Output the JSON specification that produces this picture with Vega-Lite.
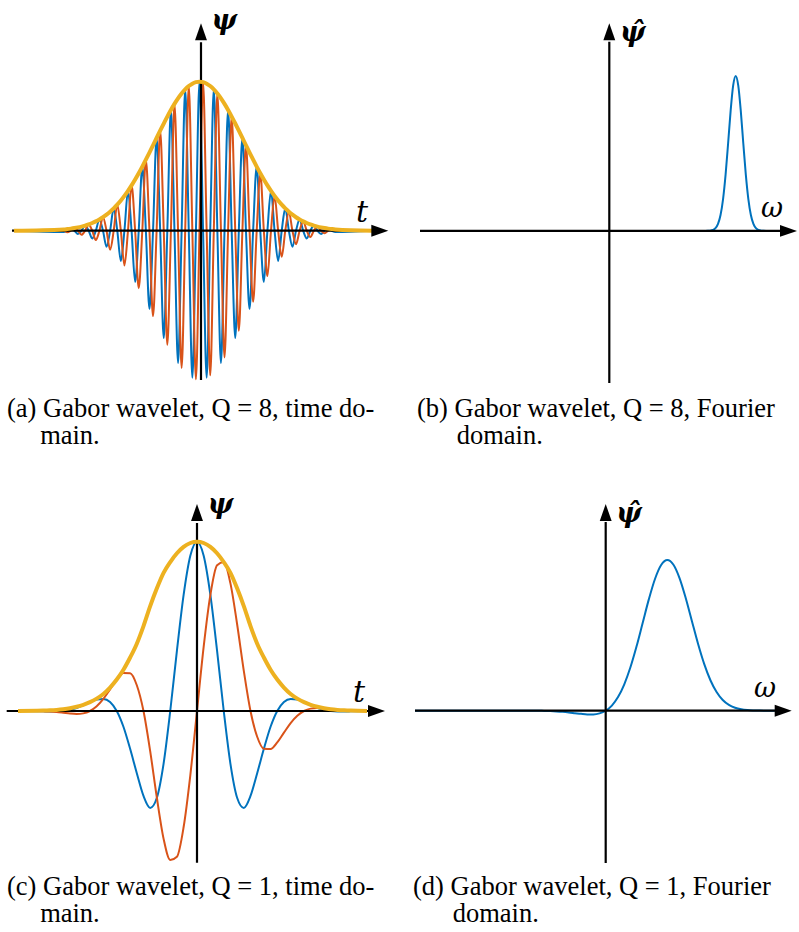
{
  "$schema": "https://vega.github.io/schema/vega-lite/v6.json",
  "padding": 0,
  "background": "white",
  "bounds": "flush",
  "columns": 2,
  "spacing": {"row": 90, "column": 4},
  "config": {
    "view": {"stroke": null},
    "title": {"font": "Liberation Serif", "fontSize": 26.5, "fontWeight": "normal", "color": "#000000", "anchor": "start", "orient": "bottom", "lineHeight": 27}
  },
  "datasets": {
    "a": [
      {"t": -12.97, "re": 0, "im": 0, "env": 0},
      {"t": -9.5, "re": -0.0086, "im": 0, "env": 0.0086},
      {"t": -9.25, "re": 0, "im": -0.011, "env": 0.011},
      {"t": -9, "re": 0.014, "im": 0, "env": 0.014},
      {"t": -8.75, "re": 0, "im": 0.0177, "env": 0.0177},
      {"t": -8.5, "re": -0.0222, "im": 0, "env": 0.0222},
      {"t": -8.25, "re": 0, "im": -0.0277, "env": 0.0277},
      {"t": -8, "re": 0.0343, "im": 0, "env": 0.0343},
      {"t": -7.75, "re": 0, "im": 0.0422, "env": 0.0422},
      {"t": -7.5, "re": -0.0516, "im": 0, "env": 0.0516},
      {"t": -7.25, "re": 0, "im": -0.0626, "env": 0.0626},
      {"t": -7, "re": 0.0755, "im": 0, "env": 0.0755},
      {"t": -6.75, "re": 0, "im": 0.0905, "env": 0.0905},
      {"t": -6.5, "re": -0.1078, "im": 0, "env": 0.1078},
      {"t": -6.25, "re": 0, "im": -0.1276, "env": 0.1276},
      {"t": -6, "re": 0.1499, "im": 0, "env": 0.1499},
      {"t": -5.75, "re": 0, "im": 0.175, "env": 0.175},
      {"t": -5.5, "re": -0.203, "im": 0, "env": 0.203},
      {"t": -5.25, "re": 0, "im": -0.2339, "env": 0.2339},
      {"t": -5, "re": 0.2677, "im": 0, "env": 0.2677},
      {"t": -4.75, "re": 0, "im": 0.3044, "env": 0.3044},
      {"t": -4.5, "re": -0.3439, "im": 0, "env": 0.3439},
      {"t": -4.25, "re": 0, "im": -0.3859, "env": 0.3859},
      {"t": -4, "re": 0.4302, "im": 0, "env": 0.4302},
      {"t": -3.75, "re": 0, "im": 0.4765, "env": 0.4765},
      {"t": -3.5, "re": -0.5243, "im": 0, "env": 0.5243},
      {"t": -3.25, "re": 0, "im": -0.5731, "env": 0.5731},
      {"t": -3, "re": 0.6222, "im": 0, "env": 0.6222},
      {"t": -2.75, "re": 0, "im": 0.6712, "env": 0.6712},
      {"t": -2.5, "re": -0.7193, "im": 0, "env": 0.7193},
      {"t": -2.25, "re": 0, "im": -0.7658, "env": 0.7658},
      {"t": -2, "re": 0.8099, "im": 0, "env": 0.8099},
      {"t": -1.75, "re": 0, "im": 0.8509, "env": 0.8509},
      {"t": -1.5, "re": -0.8882, "im": 0, "env": 0.8882},
      {"t": -1.25, "re": 0, "im": -0.9209, "env": 0.9209},
      {"t": -1, "re": 0.9487, "im": 0, "env": 0.9487},
      {"t": -0.75, "re": 0, "im": 0.9708, "env": 0.9708},
      {"t": -0.5, "re": -0.9869, "im": 0, "env": 0.9869},
      {"t": -0.25, "re": 0, "im": -0.9967, "env": 0.9967},
      {"t": 0, "re": 1, "im": 0, "env": 1},
      {"t": 0.25, "re": 0, "im": 0.9967, "env": 0.9967},
      {"t": 0.5, "re": -0.9869, "im": 0, "env": 0.9869},
      {"t": 0.75, "re": 0, "im": -0.9708, "env": 0.9708},
      {"t": 1, "re": 0.9487, "im": 0, "env": 0.9487},
      {"t": 1.25, "re": 0, "im": 0.9209, "env": 0.9209},
      {"t": 1.5, "re": -0.8882, "im": 0, "env": 0.8882},
      {"t": 1.75, "re": 0, "im": -0.8509, "env": 0.8509},
      {"t": 2, "re": 0.8099, "im": 0, "env": 0.8099},
      {"t": 2.25, "re": 0, "im": 0.7658, "env": 0.7658},
      {"t": 2.5, "re": -0.7193, "im": 0, "env": 0.7193},
      {"t": 2.75, "re": 0, "im": -0.6712, "env": 0.6712},
      {"t": 3, "re": 0.6222, "im": 0, "env": 0.6222},
      {"t": 3.25, "re": 0, "im": 0.5731, "env": 0.5731},
      {"t": 3.5, "re": -0.5243, "im": 0, "env": 0.5243},
      {"t": 3.75, "re": 0, "im": -0.4765, "env": 0.4765},
      {"t": 4, "re": 0.4302, "im": 0, "env": 0.4302},
      {"t": 4.25, "re": 0, "im": 0.3859, "env": 0.3859},
      {"t": 4.5, "re": -0.3439, "im": 0, "env": 0.3439},
      {"t": 4.75, "re": 0, "im": -0.3044, "env": 0.3044},
      {"t": 5, "re": 0.2677, "im": 0, "env": 0.2677},
      {"t": 5.25, "re": 0, "im": 0.2339, "env": 0.2339},
      {"t": 5.5, "re": -0.203, "im": 0, "env": 0.203},
      {"t": 5.75, "re": 0, "im": -0.175, "env": 0.175},
      {"t": 6, "re": 0.1499, "im": 0, "env": 0.1499},
      {"t": 6.25, "re": 0, "im": 0.1276, "env": 0.1276},
      {"t": 6.5, "re": -0.1078, "im": 0, "env": 0.1078},
      {"t": 6.75, "re": 0, "im": -0.0905, "env": 0.0905},
      {"t": 7, "re": 0.0755, "im": 0, "env": 0.0755},
      {"t": 7.25, "re": 0, "im": 0.0626, "env": 0.0626},
      {"t": 7.5, "re": -0.0516, "im": 0, "env": 0.0516},
      {"t": 7.75, "re": 0, "im": -0.0422, "env": 0.0422},
      {"t": 8, "re": 0.0343, "im": 0, "env": 0.0343},
      {"t": 8.25, "re": 0, "im": 0.0277, "env": 0.0277},
      {"t": 8.5, "re": -0.0222, "im": 0, "env": 0.0222},
      {"t": 8.75, "re": 0, "im": -0.0177, "env": 0.0177},
      {"t": 9, "re": 0.014, "im": 0, "env": 0.014},
      {"t": 9.25, "re": 0, "im": 0.011, "env": 0.011},
      {"t": 9.5, "re": -0.0086, "im": 0, "env": 0.0086},
      {"t": 12.07, "re": 0, "im": 0, "env": 0}
    ],
    "b": [
      {"w": -1.4976, "v": 0},
      {"w": 0.74, "v": 0},
      {"w": 0.76, "v": 0.0001},
      {"w": 0.78, "v": 0.0005},
      {"w": 0.8, "v": 0.0018},
      {"w": 0.82, "v": 0.0059},
      {"w": 0.84, "v": 0.0173},
      {"w": 0.86, "v": 0.0448},
      {"w": 0.88, "v": 0.1021},
      {"w": 0.9, "v": 0.205},
      {"w": 0.92, "v": 0.3627},
      {"w": 0.94, "v": 0.5653},
      {"w": 0.96, "v": 0.776},
      {"w": 0.98, "v": 0.9386},
      {"w": 1, "v": 1},
      {"w": 1.02, "v": 0.9386},
      {"w": 1.04, "v": 0.776},
      {"w": 1.06, "v": 0.5653},
      {"w": 1.08, "v": 0.3627},
      {"w": 1.1, "v": 0.205},
      {"w": 1.12, "v": 0.1021},
      {"w": 1.14, "v": 0.0448},
      {"w": 1.16, "v": 0.0173},
      {"w": 1.18, "v": 0.0059},
      {"w": 1.2, "v": 0.0018},
      {"w": 1.22, "v": 0.0005},
      {"w": 1.24, "v": 0.0001},
      {"w": 1.26, "v": 0},
      {"w": 1.3505, "v": 0}
    ],
    "c": [
      {"t": -1.673, "re": 0, "im": 0, "env": 0},
      {"t": -1.5, "re": -0.0014, "im": 0, "env": 0.0014},
      {"t": -1.4375, "re": -0.0022, "im": -0.0009, "env": 0.0024},
      {"t": -1.375, "re": -0.0028, "im": -0.0028, "env": 0.004},
      {"t": -1.3125, "re": -0.0025, "im": -0.006, "env": 0.0065},
      {"t": -1.25, "re": 0, "im": -0.0104, "env": 0.0104},
      {"t": -1.1875, "re": 0.0062, "im": -0.0151, "env": 0.0163},
      {"t": -1.125, "re": 0.0176, "im": -0.0176, "env": 0.0249},
      {"t": -1.0625, "re": 0.0338, "im": -0.014, "env": 0.0366},
      {"t": -1, "re": 0.0522, "im": 0, "env": 0.0522},
      {"t": -0.9375, "re": 0.0675, "im": 0.028, "env": 0.0731},
      {"t": -0.875, "re": 0.0712, "im": 0.0712, "env": 0.1007},
      {"t": -0.8125, "re": 0.053, "im": 0.1279, "env": 0.1385},
      {"t": -0.75, "re": 0, "im": 0.1859, "env": 0.1859},
      {"t": -0.6875, "re": -0.0932, "im": 0.225, "env": 0.2436},
      {"t": -0.625, "re": -0.2233, "im": 0.2233, "env": 0.3158},
      {"t": -0.5625, "re": -0.3674, "im": 0.1522, "env": 0.3977},
      {"t": -0.5, "re": -0.5015, "im": 0, "env": 0.5015},
      {"t": -0.4375, "re": -0.5724, "im": -0.2371, "env": 0.6195},
      {"t": -0.375, "re": -0.5125, "im": -0.5125, "env": 0.7247},
      {"t": -0.3125, "re": -0.3122, "im": -0.7538, "env": 0.8159},
      {"t": -0.25, "re": 0, "im": -0.88, "env": 0.88},
      {"t": -0.1875, "re": 0.3566, "im": -0.8609, "env": 0.9319},
      {"t": -0.125, "re": 0.6854, "im": -0.6854, "env": 0.9694},
      {"t": -0.0625, "re": 0.9167, "im": -0.3797, "env": 0.9923},
      {"t": 0, "re": 1, "im": 0, "env": 1},
      {"t": 0.0625, "re": 0.9167, "im": 0.3797, "env": 0.9923},
      {"t": 0.125, "re": 0.6854, "im": 0.6854, "env": 0.9694},
      {"t": 0.1875, "re": 0.3566, "im": 0.8609, "env": 0.9319},
      {"t": 0.25, "re": 0, "im": 0.88, "env": 0.88},
      {"t": 0.3125, "re": -0.3122, "im": 0.7538, "env": 0.8159},
      {"t": 0.375, "re": -0.5125, "im": 0.5125, "env": 0.7247},
      {"t": 0.4375, "re": -0.5724, "im": 0.2371, "env": 0.6195},
      {"t": 0.5, "re": -0.5015, "im": 0, "env": 0.5015},
      {"t": 0.5625, "re": -0.3674, "im": -0.1522, "env": 0.3977},
      {"t": 0.625, "re": -0.2233, "im": -0.2233, "env": 0.3158},
      {"t": 0.6875, "re": -0.0932, "im": -0.225, "env": 0.2436},
      {"t": 0.75, "re": 0, "im": -0.1859, "env": 0.1859},
      {"t": 0.8125, "re": 0.053, "im": -0.1279, "env": 0.1385},
      {"t": 0.875, "re": 0.0712, "im": -0.0712, "env": 0.1007},
      {"t": 0.9375, "re": 0.0675, "im": -0.028, "env": 0.0731},
      {"t": 1, "re": 0.0522, "im": 0, "env": 0.0522},
      {"t": 1.0625, "re": 0.0338, "im": 0.014, "env": 0.0366},
      {"t": 1.125, "re": 0.0176, "im": 0.0176, "env": 0.0249},
      {"t": 1.1875, "re": 0.0062, "im": 0.0151, "env": 0.0163},
      {"t": 1.25, "re": 0, "im": 0.0104, "env": 0.0104},
      {"t": 1.3125, "re": -0.0025, "im": 0.006, "env": 0.0065},
      {"t": 1.375, "re": -0.0028, "im": 0.0028, "env": 0.004},
      {"t": 1.4375, "re": -0.0022, "im": 0.0009, "env": 0.0024},
      {"t": 1.5, "re": -0.0014, "im": 0, "env": 0.0014},
      {"t": 1.589, "re": 0, "im": 0, "env": 0}
    ],
    "d": [
      {"w": -3.0958, "v": 0},
      {"w": -1.2, "v": -0.0003},
      {"w": -1.1, "v": -0.0007},
      {"w": -1.0, "v": -0.0015},
      {"w": -0.9, "v": -0.0027},
      {"w": -0.8, "v": -0.0047},
      {"w": -0.7, "v": -0.0076},
      {"w": -0.6, "v": -0.0115},
      {"w": -0.5, "v": -0.0162},
      {"w": -0.4, "v": -0.0209},
      {"w": -0.3, "v": -0.0244},
      {"w": -0.2, "v": -0.0244},
      {"w": -0.1, "v": -0.0177},
      {"w": 0, "v": 0},
      {"w": 0.1, "v": 0.034},
      {"w": 0.2, "v": 0.0902},
      {"w": 0.3, "v": 0.1733},
      {"w": 0.4, "v": 0.2859},
      {"w": 0.5, "v": 0.425},
      {"w": 0.6, "v": 0.5812},
      {"w": 0.7, "v": 0.7376},
      {"w": 0.8, "v": 0.8728},
      {"w": 0.9, "v": 0.9652},
      {"w": 1.0, "v": 0.9986},
      {"w": 1.1, "v": 0.9672},
      {"w": 1.2, "v": 0.8772},
      {"w": 1.3, "v": 0.7451},
      {"w": 1.4, "v": 0.5929},
      {"w": 1.5, "v": 0.4419},
      {"w": 1.6, "v": 0.3085},
      {"w": 1.7, "v": 0.2017},
      {"w": 1.8, "v": 0.1236},
      {"w": 1.9, "v": 0.0709},
      {"w": 2.0, "v": 0.0381},
      {"w": 2.1, "v": 0.0192},
      {"w": 2.2, "v": 0.0091},
      {"w": 2.3, "v": 0.004},
      {"w": 2.4, "v": 0.0017},
      {"w": 2.5, "v": 0.0006},
      {"w": 2.6, "v": 0.0002},
      {"w": 2.7435, "v": 0}
    ]
  },
  "concat": [
    {
      "width": 404,
      "height": 390,
      "title": {"text": ["(a) Gabor wavelet, Q = 8, time do-", "\u200b\u00a0\u00a0\u00a0\u00a0\u00a0main."], "orient": "bottom", "anchor": "start", "offset": 6, "dx": 7},
      "layer": [
        {
          "data": {"name": "a"},
          "mark": {"type": "line", "interpolate": "monotone", "strokeWidth": 2, "color": "#0072BD"},
          "encoding": {
            "x": {"field": "t", "type": "quantitative", "scale": {"domain": [-13.951, 14.301], "nice": false, "zero": false}, "axis": null},
            "y": {"field": "re", "type": "quantitative", "scale": {"domain": [-1.0691, 1.5483], "nice": false, "zero": false}, "axis": null}
          }
        },
        {
          "data": {"name": "a"},
          "mark": {"type": "line", "interpolate": "monotone", "strokeWidth": 2, "color": "#D95319"},
          "encoding": {
            "x": {"field": "t", "type": "quantitative"},
            "y": {"field": "im", "type": "quantitative"}
          }
        },
        {
          "data": {"values": [{}]},
          "mark": {"type": "rule", "strokeWidth": 2.2, "color": "#000000"},
          "encoding": {"x": {"datum": -13.112, "type": "quantitative"}, "x2": {"datum": 12.1}, "y": {"datum": 0, "type": "quantitative"}}
        },
        {
          "data": {"values": [{}]},
          "mark": {"type": "rule", "strokeWidth": 2.2, "color": "#000000"},
          "encoding": {"x": {"datum": 0.1049, "type": "quantitative"}, "y": {"datum": -1.002, "type": "quantitative"}, "y2": {"datum": 1.265}}
        },
        {
          "data": {"name": "a"},
          "mark": {"type": "line", "interpolate": "monotone", "strokeWidth": 4, "color": "#EDB120"},
          "encoding": {
            "x": {"field": "t", "type": "quantitative"},
            "y": {"field": "env", "type": "quantitative"}
          }
        },
        {
          "data": {"values": [{}]},
          "mark": {"type": "point", "filled": true, "opacity": 1, "shape": "M1,0L0,-0.35L0,0.35Z", "size": 1156, "color": "#000000", "strokeWidth": 0},
          "encoding": {"x": {"datum": 12.014, "type": "quantitative"}, "y": {"datum": 0, "type": "quantitative"}}
        },
        {
          "data": {"values": [{}]},
          "mark": {"type": "point", "filled": true, "opacity": 1, "shape": "M0,-1L0.35,0L-0.35,0Z", "size": 1156, "color": "#000000", "strokeWidth": 0},
          "encoding": {"x": {"datum": 0.1049, "type": "quantitative"}, "y": {"datum": 1.2779, "type": "quantitative"}}
        },
        {
          "data": {"values": [{}]},
          "mark": {"type": "text", "text": "ψ", "font": "DejaVu Serif", "fontStyle": "italic", "fontWeight": "bold", "fontSize": 27, "align": "left", "baseline": "middle", "color": "#000000"},
          "encoding": {"x": {"datum": 0.84, "type": "quantitative"}, "y": {"datum": 1.4074, "type": "quantitative"}}
        },
        {
          "data": {"values": [{}]},
          "mark": {"type": "text", "text": "t", "font": "DejaVu Serif", "fontStyle": "italic", "fontSize": 30, "align": "left", "baseline": "alphabetic", "color": "#000000"},
          "encoding": {"x": {"datum": 10.944, "type": "quantitative"}, "y": {"datum": 0.0584, "type": "quantitative"}}
        }
      ]
    },
    {
      "width": 404,
      "height": 390,
      "title": {"text": ["(b) Gabor wavelet, Q = 8, Fourier", "\u200b\u00a0\u00a0\u00a0\u00a0\u00a0\u00a0domain."], "orient": "bottom", "anchor": "start", "offset": 6, "dx": 9},
      "layer": [
        {
          "data": {"name": "b"},
          "mark": {"type": "line", "interpolate": "monotone", "strokeWidth": 2, "color": "#0072BD"},
          "encoding": {
            "x": {"field": "w", "type": "quantitative", "scale": {"domain": [-1.5926, 1.6036], "nice": false, "zero": false}, "axis": null},
            "y": {"field": "v", "type": "quantitative", "scale": {"domain": [-1.0265, 1.4897], "nice": false, "zero": false}, "axis": null}
          }
        },
        {
          "data": {"values": [{}]},
          "mark": {"type": "rule", "strokeWidth": 2.2, "color": "#000000"},
          "encoding": {"x": {"datum": -1.4976, "type": "quantitative"}, "x2": {"datum": 1.36}, "y": {"datum": 0, "type": "quantitative"}}
        },
        {
          "data": {"values": [{}]},
          "mark": {"type": "rule", "strokeWidth": 2.2, "color": "#000000"},
          "encoding": {"x": {"datum": 0, "type": "quantitative"}, "y": {"datum": -0.9813, "type": "quantitative"}, "y2": {"datum": 1.22}}
        },
        {
          "data": {"values": [{}]},
          "mark": {"type": "point", "filled": true, "opacity": 1, "shape": "M1,0L0,-0.35L0,0.35Z", "size": 1156, "color": "#000000", "strokeWidth": 0},
          "encoding": {"x": {"datum": 1.3505, "type": "quantitative"}, "y": {"datum": 0, "type": "quantitative"}}
        },
        {
          "data": {"values": [{}]},
          "mark": {"type": "point", "filled": true, "opacity": 1, "shape": "M0,-1L0.35,0L-0.35,0Z", "size": 1156, "color": "#000000", "strokeWidth": 0},
          "encoding": {"x": {"datum": 0, "type": "quantitative"}, "y": {"datum": 1.2297, "type": "quantitative"}}
        },
        {
          "data": {"values": [{}]},
          "mark": {"type": "text", "text": "ψ̂", "font": "DejaVu Serif", "fontStyle": "italic", "fontWeight": "bold", "fontSize": 27, "align": "left", "baseline": "middle", "color": "#000000"},
          "encoding": {"x": {"datum": 0.085, "type": "quantitative"}, "y": {"datum": 1.2768, "type": "quantitative"}}
        },
        {
          "data": {"values": [{}]},
          "mark": {"type": "text", "text": "ω", "font": "DejaVu Serif", "fontStyle": "italic", "fontSize": 27, "align": "left", "baseline": "alphabetic", "color": "#000000"},
          "encoding": {"x": {"datum": 1.2002, "type": "quantitative"}, "y": {"datum": 0.0897, "type": "quantitative"}}
        }
      ]
    },
    {
      "width": 404,
      "height": 390,
      "title": {"text": ["(c) Gabor wavelet, Q = 1, time do-", "\u200b\u00a0\u00a0\u00a0\u00a0\u00a0main."], "orient": "bottom", "anchor": "start", "offset": 4, "dx": 7},
      "layer": [
        {
          "data": {"name": "c"},
          "mark": {"type": "line", "interpolate": "monotone", "strokeWidth": 2, "color": "#0072BD"},
          "encoding": {
            "x": {"field": "t", "type": "quantitative", "scale": {"domain": [-1.8411, 1.9346], "nice": false, "zero": false}, "axis": null},
            "y": {"field": "re", "type": "quantitative", "scale": {"domain": [-0.9392, 1.3644], "nice": false, "zero": false}, "axis": null}
          }
        },
        {
          "data": {"name": "c"},
          "mark": {"type": "line", "interpolate": "monotone", "strokeWidth": 2, "color": "#D95319"},
          "encoding": {
            "x": {"field": "t", "type": "quantitative"},
            "y": {"field": "im", "type": "quantitative"}
          }
        },
        {
          "data": {"values": [{}]},
          "mark": {"type": "rule", "strokeWidth": 2.2, "color": "#000000"},
          "encoding": {"x": {"datum": -1.7785, "type": "quantitative"}, "x2": {"datum": 1.61}, "y": {"datum": 0, "type": "quantitative"}}
        },
        {
          "data": {"values": [{}]},
          "mark": {"type": "rule", "strokeWidth": 2.2, "color": "#000000"},
          "encoding": {"x": {"datum": 0, "type": "quantitative"}, "y": {"datum": -0.896, "type": "quantitative"}, "y2": {"datum": 1.11}}
        },
        {
          "data": {"name": "c"},
          "mark": {"type": "line", "interpolate": "monotone", "strokeWidth": 4, "color": "#EDB120"},
          "encoding": {
            "x": {"field": "t", "type": "quantitative"},
            "y": {"field": "env", "type": "quantitative"}
          }
        },
        {
          "data": {"values": [{}]},
          "mark": {"type": "point", "filled": true, "opacity": 1, "shape": "M1,0L0,-0.35L0,0.35Z", "size": 1156, "color": "#000000", "strokeWidth": 0},
          "encoding": {"x": {"datum": 1.5981, "type": "quantitative"}, "y": {"datum": 0, "type": "quantitative"}}
        },
        {
          "data": {"values": [{}]},
          "mark": {"type": "point", "filled": true, "opacity": 1, "shape": "M0,-1L0.35,0L-0.35,0Z", "size": 1156, "color": "#000000", "strokeWidth": 0},
          "encoding": {"x": {"datum": 0, "type": "quantitative"}, "y": {"datum": 1.1223, "type": "quantitative"}}
        },
        {
          "data": {"values": [{}]},
          "mark": {"type": "text", "text": "ψ", "font": "DejaVu Serif", "fontStyle": "italic", "fontWeight": "bold", "fontSize": 27, "align": "left", "baseline": "middle", "color": "#000000"},
          "encoding": {"x": {"datum": 0.1, "type": "quantitative"}, "y": {"datum": 1.2168, "type": "quantitative"}}
        },
        {
          "data": {"values": [{}]},
          "mark": {"type": "text", "text": "t", "font": "DejaVu Serif", "fontStyle": "italic", "fontSize": 30, "align": "left", "baseline": "alphabetic", "color": "#000000"},
          "encoding": {"x": {"datum": 1.458, "type": "quantitative"}, "y": {"datum": 0.0532, "type": "quantitative"}}
        }
      ]
    },
    {
      "width": 404,
      "height": 390,
      "title": {"text": ["(d) Gabor wavelet, Q = 1, Fourier", "\u200b\u00a0\u00a0\u00a0\u00a0\u00a0\u00a0domain."], "orient": "bottom", "anchor": "start", "offset": 4, "dx": 5},
      "layer": [
        {
          "data": {"name": "d"},
          "mark": {"type": "line", "interpolate": "monotone", "strokeWidth": 2, "color": "#0072BD"},
          "encoding": {
            "x": {"field": "w", "type": "quantitative", "scale": {"domain": [-3.2094, 3.349], "nice": false, "zero": false}, "axis": null},
            "y": {"field": "v", "type": "quantitative", "scale": {"domain": [-1.0557, 1.5288], "nice": false, "zero": false}, "axis": null}
          }
        },
        {
          "data": {"values": [{}]},
          "mark": {"type": "rule", "strokeWidth": 2.2, "color": "#000000"},
          "encoding": {"x": {"datum": -3.0958, "type": "quantitative"}, "x2": {"datum": 2.76}, "y": {"datum": 0, "type": "quantitative"}}
        },
        {
          "data": {"values": [{}]},
          "mark": {"type": "rule", "strokeWidth": 2.2, "color": "#000000"},
          "encoding": {"x": {"datum": 0, "type": "quantitative"}, "y": {"datum": -1.0093, "type": "quantitative"}, "y2": {"datum": 1.25}}
        },
        {
          "data": {"values": [{}]},
          "mark": {"type": "point", "filled": true, "opacity": 1, "shape": "M1,0L0,-0.35L0,0.35Z", "size": 1156, "color": "#000000", "strokeWidth": 0},
          "encoding": {"x": {"datum": 2.7435, "type": "quantitative"}, "y": {"datum": 0, "type": "quantitative"}}
        },
        {
          "data": {"values": [{}]},
          "mark": {"type": "point", "filled": true, "opacity": 1, "shape": "M0,-1L0.35,0L-0.35,0Z", "size": 1156, "color": "#000000", "strokeWidth": 0},
          "encoding": {"x": {"datum": 0, "type": "quantitative"}, "y": {"datum": 1.2571, "type": "quantitative"}}
        },
        {
          "data": {"values": [{}]},
          "mark": {"type": "text", "text": "ψ̂", "font": "DejaVu Serif", "fontStyle": "italic", "fontWeight": "bold", "fontSize": 27, "align": "left", "baseline": "middle", "color": "#000000"},
          "encoding": {"x": {"datum": 0.17, "type": "quantitative"}, "y": {"datum": 1.3035, "type": "quantitative"}}
        },
        {
          "data": {"values": [{}]},
          "mark": {"type": "text", "text": "ω", "font": "DejaVu Serif", "fontStyle": "italic", "fontSize": 27, "align": "left", "baseline": "alphabetic", "color": "#000000"},
          "encoding": {"x": {"datum": 2.4075, "type": "quantitative"}, "y": {"datum": 0.0908, "type": "quantitative"}}
        }
      ]
    }
  ]
}
